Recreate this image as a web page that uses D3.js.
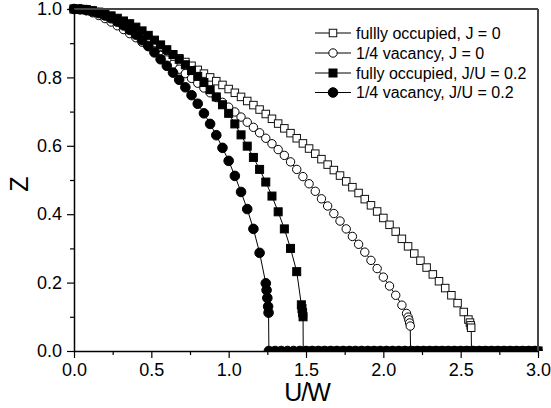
<!DOCTYPE html>
<html>
<head>
<meta charset="utf-8">
<script src="https://cdn.jsdelivr.net/npm/d3@7"></script>
<style>
  html, body { margin: 0; padding: 0; background: #fff; }
  svg { display: block; font-family: Arial, "Liberation Sans", sans-serif; }
</style>
</head>
<body>
<svg id="chart" width="551" height="408"></svg>
<script>
// ---- data ----
const seriesNames = ["fullly occupied, J = 0", "1/4 vacancy, J = 0", "fully occupied, J/U = 0.2", "1/4 vacancy, J/U = 0.2"];

// fully occupied, J = 0  (open squares)  [U/W, Z]
const fullJ0 = [[0,1.000],[0.04,0.999],[0.08,0.997],[0.12,0.993],[0.16,0.988],[0.20,0.981],[0.24,0.973],[0.28,0.964],[0.32,0.955],[0.36,0.945],[0.40,0.934],[0.44,0.923],[0.48,0.912],[0.52,0.900],[0.56,0.889],[0.60,0.878],[0.64,0.867],[0.68,0.856],[0.72,0.845],[0.76,0.834],[0.80,0.822],[0.84,0.811],[0.88,0.800],[0.92,0.789],[0.96,0.778],[1.00,0.766],[1.04,0.755],[1.08,0.743],[1.12,0.731],[1.16,0.719],[1.20,0.706],[1.24,0.693],[1.28,0.679],[1.32,0.665],[1.36,0.651],[1.40,0.637],[1.44,0.622],[1.48,0.607],[1.52,0.592],[1.56,0.577],[1.60,0.561],[1.64,0.545],[1.68,0.529],[1.72,0.513],[1.76,0.496],[1.80,0.479],[1.84,0.462],[1.88,0.444],[1.92,0.426],[1.96,0.408],[2.00,0.389],[2.04,0.369],[2.08,0.349],[2.12,0.328],[2.16,0.306],[2.20,0.285],[2.24,0.264],[2.28,0.244],[2.32,0.224],[2.36,0.204],[2.40,0.184],[2.44,0.163],[2.48,0.140],[2.52,0.114],[2.55,0.092],[2.56,0.083],[2.565,0.075],[2.568,0.068]];
const fullJ0Zeros = [2.57,2.60,2.64,2.68,2.72,2.76,2.80,2.84,2.88,2.92,2.96,3.00];

// 1/4 vacancy, J = 0  (open circles)
const vacJ0 = [[0,1.000],[0.04,0.999],[0.08,0.995],[0.12,0.989],[0.16,0.981],[0.20,0.972],[0.24,0.962],[0.28,0.951],[0.32,0.940],[0.36,0.928],[0.40,0.916],[0.44,0.903],[0.48,0.890],[0.52,0.877],[0.56,0.864],[0.60,0.851],[0.64,0.838],[0.68,0.824],[0.72,0.811],[0.76,0.797],[0.80,0.783],[0.84,0.769],[0.88,0.755],[0.92,0.741],[0.96,0.727],[1.00,0.713],[1.04,0.699],[1.08,0.684],[1.12,0.669],[1.16,0.654],[1.20,0.638],[1.24,0.622],[1.28,0.606],[1.32,0.589],[1.36,0.572],[1.40,0.553],[1.44,0.531],[1.48,0.510],[1.52,0.489],[1.56,0.467],[1.60,0.445],[1.64,0.424],[1.68,0.402],[1.72,0.380],[1.76,0.357],[1.80,0.335],[1.84,0.312],[1.88,0.289],[1.92,0.265],[1.96,0.241],[2.00,0.216],[2.04,0.190],[2.08,0.163],[2.12,0.134],[2.15,0.110],[2.16,0.099],[2.165,0.091],[2.17,0.082],[2.174,0.073]];
const vacJ0Zeros = [2.176,2.20,2.24,2.28,2.32,2.36,2.40,2.44,2.48,2.52,2.56,2.60,2.64,2.68,2.72,2.76,2.80,2.84,2.88,2.92,2.96,3.00];

// fully occupied, J/U = 0.2  (filled squares)
const fullJ02 = [[0,1.000],[0.04,0.9995],[0.08,0.998],[0.12,0.995],[0.16,0.991],[0.20,0.986],[0.24,0.980],[0.28,0.973],[0.32,0.965],[0.36,0.957],[0.40,0.947],[0.44,0.936],[0.48,0.923],[0.52,0.909],[0.56,0.895],[0.60,0.881],[0.64,0.867],[0.68,0.853],[0.72,0.837],[0.76,0.820],[0.80,0.803],[0.84,0.785],[0.88,0.764],[0.92,0.743],[0.96,0.720],[1.00,0.695],[1.04,0.664],[1.08,0.632],[1.12,0.599],[1.16,0.566],[1.20,0.531],[1.24,0.494],[1.28,0.453],[1.32,0.407],[1.36,0.357],[1.40,0.300],[1.44,0.232],[1.47,0.135],[1.474,0.124],[1.478,0.112],[1.481,0.100]];
const fullJ02Zeros = [1.482,1.52,1.56,1.60,1.64,1.68,1.72,1.76,1.80,1.84,1.88,1.92,1.96,2.00,2.04,2.08,2.12,2.16,2.20,2.24,2.28,2.32,2.36,2.40,2.44,2.48,2.52,2.56,2.60,2.64,2.68,2.72,2.76,2.80,2.84,2.88,2.92,2.96,3.00];

// 1/4 vacancy, J/U = 0.2  (filled circles)
const vacJ02 = [[0,1.000],[0.04,0.999],[0.08,0.997],[0.12,0.993],[0.16,0.988],[0.20,0.981],[0.24,0.973],[0.28,0.963],[0.32,0.952],[0.36,0.939],[0.40,0.925],[0.44,0.909],[0.48,0.892],[0.52,0.873],[0.56,0.853],[0.60,0.834],[0.64,0.814],[0.68,0.793],[0.72,0.771],[0.76,0.748],[0.80,0.723],[0.84,0.695],[0.88,0.664],[0.92,0.631],[0.96,0.594],[1.00,0.556],[1.04,0.512],[1.08,0.465],[1.12,0.415],[1.16,0.357],[1.20,0.287],[1.24,0.198],[1.245,0.178],[1.25,0.155],[1.255,0.130],[1.258,0.112]];
const vacJ02Zeros = [1.26,1.30,1.34,1.38,1.42,1.46,1.50,1.54,1.58,1.62,1.66,1.70,1.74,1.78,1.82,1.86,1.90,1.94,1.98,2.02,2.06,2.10,2.14,2.18,2.22,2.26,2.30,2.34,2.38,2.42,2.46,2.50,2.54,2.58,2.62,2.66,2.70,2.74,2.78,2.82,2.86,2.90,2.94,2.98];

const xMajorTicks = [0, 0.5, 1.0, 1.5, 2.0, 2.5, 3.0];
const xMinorTicks = [0.25, 0.75, 1.25, 1.75, 2.25, 2.75];
const yMajorTicks = [0, 0.2, 0.4, 0.6, 0.8, 1.0];
const yMinorTicks = [0.1, 0.3, 0.5, 0.7, 0.9];

// ---- drawing ----
const svg = d3.select("#chart");
const L = 74, R = 538, T = 9, B = 351;
const x = d3.scaleLinear().domain([0, 3]).range([L, R]);
const y = d3.scaleLinear().domain([0, 1]).range([B, T]);

const series = [
  { name: seriesNames[0], pts: fullJ0, zeros: fullJ0Zeros, shape: "square", filled: false, size: 7.5 },
  { name: seriesNames[1], pts: vacJ0, zeros: vacJ0Zeros, shape: "circle", filled: false, size: 4.2 },
  { name: seriesNames[2], pts: fullJ02, zeros: fullJ02Zeros, shape: "square", filled: true, size: 8 },
  { name: seriesNames[3], pts: vacJ02, zeros: vacJ02Zeros, shape: "circle", filled: true, size: 4.8 }
];

svg.append("defs").append("clipPath").attr("id", "clip")
  .append("rect").attr("x", 0).attr("y", 0).attr("width", 551).attr("height", B);

const plot = svg.append("g").attr("clip-path", "url(#clip)");
const line = d3.line().x(d => x(d[0])).y(d => y(d[1]));

function drawMarker(g, cx, cy, s) {
  if (s.shape === "square") {
    g.append("rect")
      .attr("x", cx - s.size / 2).attr("y", cy - s.size / 2)
      .attr("width", s.size).attr("height", s.size)
      .attr("fill", s.filled ? "#000" : "#fff")
      .attr("stroke", s.filled ? "#000" : "#111").attr("stroke-width", 1);
  } else {
    g.append("circle").attr("cx", cx).attr("cy", cy).attr("r", s.size)
      .attr("fill", s.filled ? "#000" : "#fff")
      .attr("stroke", "#000").attr("stroke-width", 1);
  }
}

series.forEach(s => {
  const all = s.pts.concat(s.zeros.map(u => [u, 0]));
  plot.append("path").datum(all).attr("d", line)
    .attr("fill", "none").attr("stroke", "#000").attr("stroke-width", 1);
});
series.forEach(s => {
  const g = plot.append("g");
  const all = s.pts.concat(s.zeros.map(u => [u, 0]));
  all.forEach(d => drawMarker(g, x(d[0]), y(d[1]), s));
});

// frame
svg.append("line").attr("x1", L).attr("x2", R).attr("y1", T).attr("y2", T)
  .attr("stroke", "#444").attr("stroke-width", 2);
svg.append("line").attr("x1", R).attr("x2", R).attr("y1", T).attr("y2", B)
  .attr("stroke", "#444").attr("stroke-width", 2);

// axes
const fmt = d3.format(".1f");
svg.append("g").attr("transform", `translate(0,${B})`)
  .call(d3.axisBottom(x).tickValues(xMajorTicks).tickFormat(fmt).tickSize(7).tickPadding(5).tickSizeOuter(0));
svg.append("g").attr("transform", `translate(0,${B})`)
  .call(d3.axisBottom(x).tickValues(xMinorTicks).tickFormat("").tickSize(4).tickSizeOuter(0))
  .select(".domain").remove();
svg.append("g").attr("transform", `translate(${L},0)`)
  .call(d3.axisLeft(y).tickValues(yMajorTicks).tickFormat(fmt).tickSize(7).tickPadding(5).tickSizeOuter(0));
svg.append("g").attr("transform", `translate(${L},0)`)
  .call(d3.axisLeft(y).tickValues(yMinorTicks).tickFormat("").tickSize(4).tickSizeOuter(0))
  .select(".domain").remove();
svg.selectAll(".tick line").attr("stroke", "#000").attr("stroke-width", 1.2);
svg.selectAll(".domain").attr("stroke", "#000").attr("stroke-width", 1.5);
svg.selectAll(".tick text").attr("font-size", 18).attr("font-family", "Arial, 'Liberation Sans', sans-serif").attr("fill", "#000");

// axis titles
svg.append("text").attr("x", 307).attr("y", 401).attr("text-anchor", "middle")
  .attr("font-size", 25).attr("letter-spacing", -1).text("U/W");
svg.append("text").attr("transform", "translate(28,184) rotate(-90)").attr("text-anchor", "middle")
  .attr("font-size", 25).text("Z");

// legend
const legRows = [33, 53, 73, 92.5];
series.forEach((s, i) => {
  const g = svg.append("g");
  const yy = legRows[i];
  g.append("line").attr("x1", 315).attr("x2", 351).attr("y1", yy).attr("y2", yy)
    .attr("stroke", "#000").attr("stroke-width", 1);
  drawMarker(g, 333, yy, s);
  g.append("text").attr("x", 356).attr("y", yy + 5.5).attr("font-size", 16).text(s.name);
});
</script>
</body>
</html>
